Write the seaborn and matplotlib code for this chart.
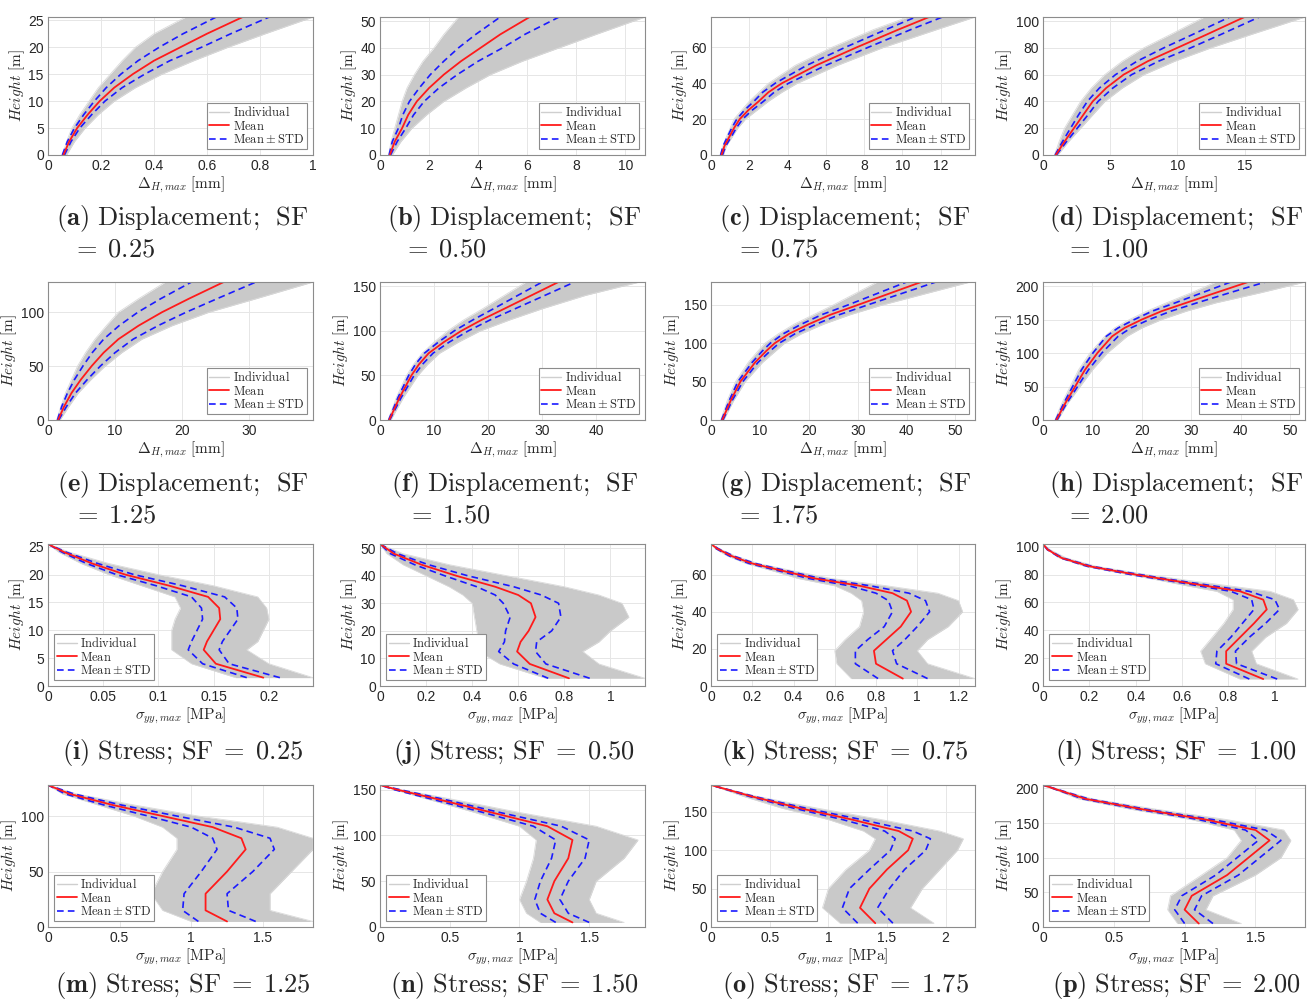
import numpy as np
import matplotlib.pyplot as plt
import seaborn as sns
from matplotlib.lines import Line2D
from matplotlib.ticker import FuncFormatter, MultipleLocator

sns.set_style("whitegrid")
plt.rcParams['font.family'] = ['Liberation Sans', 'DejaVu Sans']
plt.rcParams['mathtext.fontset'] = 'cm'

# ---- displacement panels: height [m], mean and std of Delta_H,max [mm], grey band edges
a_h = [0, 2.5, 5, 7.5, 10, 12.5, 15, 17.5, 20, 22.5, 25.6]
a_mean = [0.058, 0.08, 0.11, 0.15, 0.195, 0.25, 0.32, 0.4, 0.5, 0.6, 0.735]
a_std = [0.004, 0.007, 0.01, 0.015, 0.02, 0.03, 0.045, 0.06, 0.08, 0.09, 0.1]
a_lo = [0.055, 0.07, 0.09, 0.12, 0.155, 0.19, 0.235, 0.28, 0.33, 0.4, 0.52]
a_hi = [0.07, 0.1, 0.14, 0.19, 0.25, 0.33, 0.43, 0.55, 0.68, 0.82, 1.0]

b_h = [0, 5, 10, 15, 20, 25, 30, 35, 40, 45, 51.5]
b_mean = [0.4, 0.6, 0.9, 1.15, 1.5, 2.0, 2.6, 3.3, 4.1, 4.9, 6.1]
b_std = [0.03, 0.1, 0.15, 0.22, 0.3, 0.4, 0.55, 0.7, 0.9, 1.0, 1.2]
b_lo = [0.35, 0.45, 0.6, 0.75, 0.9, 1.1, 1.4, 1.75, 2.2, 2.6, 3.2]
b_hi = [0.5, 0.85, 1.3, 1.9, 2.6, 3.5, 4.5, 5.8, 7.3, 8.8, 10.8]

c_h = [0, 5, 10, 15, 20, 25, 30, 35, 40, 50, 60, 70, 77]
c_mean = [0.55, 0.7, 0.95, 1.2, 1.5, 1.95, 2.5, 3.0, 3.7, 5.5, 7.6, 9.8, 11.4]
c_std = [0.05, 0.07, 0.1, 0.12, 0.15, 0.2, 0.25, 0.3, 0.35, 0.5, 0.6, 0.65, 0.7]
c_lo = [0.5, 0.62, 0.8, 1.0, 1.2, 1.6, 2.0, 2.5, 3.0, 4.4, 6.3, 8.5, 10.3]
c_hi = [0.65, 0.8, 1.1, 1.4, 1.8, 2.4, 3.0, 3.7, 4.5, 6.6, 9.0, 11.8, 13.8]

d_h = [0, 10, 20, 30, 40, 50, 60, 70, 80, 90, 103]
d_mean = [0.95, 1.6, 2.3, 3.0, 3.7, 4.7, 6.0, 7.8, 10.0, 12.2, 15.0]
d_std = [0.05, 0.15, 0.25, 0.35, 0.4, 0.5, 0.6, 0.8, 1.0, 1.05, 1.1]
d_lo = [0.85, 1.2, 1.6, 2.2, 2.8, 3.6, 4.6, 5.9, 7.5, 9.5, 12.0]
d_hi = [1.1, 1.9, 2.8, 3.7, 4.6, 5.9, 7.5, 9.8, 12.5, 15.5, 19.5]

e_h = [0, 12.5, 25, 37.5, 50, 62.5, 75, 87.5, 100, 112.5, 128]
e_mean = [1.5, 2.4, 3.5, 4.9, 6.5, 8.3, 10.5, 13.5, 17.0, 21.0, 26.2]
e_std = [0.1, 0.35, 0.6, 0.95, 1.3, 1.7, 2.2, 2.9, 3.6, 4.2, 4.8]
e_lo = [1.3, 1.9, 2.6, 3.5, 4.4, 5.6, 7.0, 8.7, 10.5, 13.5, 17.5]
e_hi = [1.8, 3.1, 4.5, 6.4, 8.5, 11.0, 14.0, 18.5, 24.0, 31.0, 39.5]

f_h = [0, 25, 50, 62.5, 75, 87.5, 100, 112.5, 125, 140, 155]
f_mean = [1.7, 3.6, 5.8, 7.2, 9.0, 11.8, 15.0, 18.8, 23.0, 28.0, 33.0]
f_std = [0.1, 0.3, 0.5, 0.65, 0.8, 1.0, 1.3, 1.6, 2.0, 2.5, 3.0]
f_lo = [1.5, 3.0, 4.9, 6.2, 7.8, 10.0, 12.5, 15.5, 19.0, 23.0, 27.0]
f_hi = [2.0, 4.3, 7.0, 8.8, 11.0, 14.5, 18.5, 24.0, 30.0, 38.0, 48.0]

g_h = [0, 25, 50, 75, 90, 100, 112.5, 125, 137.5, 150, 165, 180]
g_mean = [2.3, 4.0, 6.0, 9.0, 11.3, 13.0, 16.0, 20.0, 24.5, 30.0, 36.5, 43.0]
g_std = [0.15, 0.3, 0.5, 0.6, 0.8, 0.9, 1.2, 1.5, 1.8, 2.0, 2.5, 3.0]
g_lo = [2.0, 3.3, 5.0, 7.6, 9.6, 11.0, 13.8, 17.0, 21.0, 25.0, 29.5, 34.0]
g_hi = [2.6, 4.6, 7.0, 10.5, 13.2, 15.0, 18.5, 23.0, 28.5, 35.0, 44.0, 53.0]

h_h = [0, 25, 50, 75, 100, 125, 137.5, 150, 162.5, 175, 190, 206]
h_mean = [2.7, 4.5, 6.5, 8.5, 11.0, 14.0, 16.5, 20.0, 24.0, 29.0, 35.0, 41.5]
h_std = [0.15, 0.3, 0.5, 0.7, 0.9, 1.2, 1.3, 1.5, 1.9, 2.2, 2.8, 3.5]
h_lo = [2.4, 3.8, 5.5, 7.2, 9.5, 12.5, 14.5, 17.5, 21.0, 25.0, 30.0, 35.0]
h_hi = [3.0, 5.0, 7.5, 10.0, 13.0, 17.0, 20.0, 24.0, 29.0, 35.0, 44.0, 53.0]

# ---- stress panels: height [m], mean and std of sigma_yy,max [MPa], grey band edges
i_h = [1.5, 4, 6.5, 8, 10, 12, 14, 16, 18, 20, 22, 24, 25.5]
i_mean = [0.195, 0.152, 0.141, 0.144, 0.15, 0.156, 0.155, 0.145, 0.11, 0.07, 0.04, 0.015, 0]
i_std = [0.015, 0.012, 0.014, 0.014, 0.015, 0.016, 0.016, 0.015, 0.012, 0.008, 0.005, 0.002, 0]
i_lo = [0.17, 0.13, 0.112, 0.112, 0.112, 0.115, 0.12, 0.115, 0.085, 0.055, 0.03, 0.01, 0]
i_hi = [0.24, 0.2, 0.18, 0.19, 0.195, 0.2, 0.198, 0.19, 0.15, 0.1, 0.055, 0.02, 0]

j_h = [2.8, 8, 12.5, 16, 20, 25, 30, 33, 36, 40, 44, 48, 51.5]
j_mean = [0.82, 0.65, 0.595, 0.61, 0.645, 0.675, 0.655, 0.6, 0.5, 0.33, 0.18, 0.06, 0]
j_std = [0.09, 0.07, 0.08, 0.07, 0.1, 0.11, 0.12, 0.1, 0.08, 0.05, 0.03, 0.015, 0]
j_lo = [0.72, 0.52, 0.43, 0.43, 0.42, 0.41, 0.4, 0.36, 0.3, 0.2, 0.1, 0.03, 0]
j_hi = [1.15, 0.95, 0.88, 0.95, 1.0, 1.08, 1.05, 0.95, 0.8, 0.55, 0.3, 0.1, 0]

k_h = [4, 12, 19, 25, 32, 40, 46, 50, 54, 58, 62, 66, 70, 74, 76.5]
k_mean = [0.93, 0.8, 0.79, 0.85, 0.92, 0.97, 0.95, 0.88, 0.72, 0.5, 0.35, 0.2, 0.1, 0.03, 0]
k_std = [0.12, 0.1, 0.09, 0.09, 0.08, 0.09, 0.09, 0.08, 0.05, 0.03, 0.02, 0.015, 0.01, 0.005, 0]
k_lo = [0.68, 0.61, 0.6, 0.65, 0.72, 0.74, 0.73, 0.68, 0.6, 0.42, 0.3, 0.17, 0.08, 0.02, 0]
k_hi = [1.28, 1.05, 1.0, 1.05, 1.15, 1.22, 1.2, 1.1, 0.85, 0.58, 0.4, 0.23, 0.12, 0.04, 0]

l_h = [5, 16, 25, 35, 45, 55, 62, 68, 72, 76, 80, 86, 92, 98, 102]
l_mean = [0.95, 0.79, 0.79, 0.85, 0.91, 0.965, 0.95, 0.85, 0.7, 0.55, 0.4, 0.2, 0.08, 0.02, 0]
l_std = [0.06, 0.045, 0.04, 0.04, 0.05, 0.055, 0.05, 0.04, 0.03, 0.02, 0.02, 0.01, 0.005, 0.002, 0]
l_lo = [0.85, 0.7, 0.68, 0.73, 0.78, 0.82, 0.82, 0.75, 0.62, 0.5, 0.37, 0.18, 0.07, 0.02, 0]
l_hi = [1.1, 0.92, 0.9, 0.96, 1.05, 1.1, 1.08, 0.98, 0.8, 0.62, 0.45, 0.23, 0.1, 0.03, 0]

m_h = [5, 15, 30, 50, 70, 80, 90, 100, 110, 120, 128]
m_mean = [1.25, 1.1, 1.1, 1.25, 1.38, 1.35, 1.15, 0.8, 0.45, 0.15, 0]
m_std = [0.2, 0.16, 0.15, 0.18, 0.2, 0.2, 0.15, 0.1, 0.06, 0.03, 0]
m_lo = [1.0, 0.8, 0.72, 0.8, 0.9, 0.9, 0.8, 0.6, 0.35, 0.1, 0]
m_hi = [1.85, 1.55, 1.55, 1.7, 1.85, 1.85, 1.6, 1.05, 0.6, 0.2, 0]

n_h = [5, 15, 30, 50, 75, 95, 110, 125, 140, 150, 155]
n_mean = [1.38, 1.25, 1.2, 1.25, 1.35, 1.38, 1.2, 0.8, 0.4, 0.12, 0]
n_std = [0.12, 0.1, 0.09, 0.1, 0.12, 0.12, 0.1, 0.06, 0.04, 0.02, 0]
n_lo = [1.15, 1.05, 1.0, 1.05, 1.1, 1.12, 1.0, 0.68, 0.33, 0.1, 0]
n_hi = [1.75, 1.55, 1.5, 1.55, 1.75, 1.85, 1.55, 1.0, 0.5, 0.15, 0]

o_h = [5, 25, 50, 75, 100, 115, 125, 140, 155, 170, 185]
o_mean = [1.4, 1.27, 1.35, 1.5, 1.68, 1.72, 1.6, 1.2, 0.75, 0.35, 0]
o_std = [0.15, 0.15, 0.17, 0.15, 0.15, 0.15, 0.12, 0.08, 0.05, 0.02, 0]
o_lo = [1.1, 0.95, 1.0, 1.15, 1.35, 1.4, 1.3, 1.0, 0.6, 0.28, 0]
o_hi = [1.9, 1.7, 1.8, 1.95, 2.1, 2.15, 1.95, 1.45, 0.9, 0.4, 0]

p_h = [5, 25, 45, 75, 100, 125, 140, 155, 170, 185, 205]
p_mean = [1.1, 1.0, 1.05, 1.3, 1.45, 1.6, 1.5, 1.15, 0.7, 0.3, 0]
p_std = [0.1, 0.07, 0.07, 0.08, 0.08, 0.08, 0.07, 0.05, 0.03, 0.02, 0]
p_lo = [0.95, 0.88, 0.9, 1.12, 1.3, 1.4, 1.35, 1.05, 0.62, 0.25, 0]
p_hi = [1.4, 1.15, 1.2, 1.5, 1.68, 1.75, 1.7, 1.3, 0.8, 0.35, 0]

sf_labels = ['0.25', '0.50', '0.75', '1.00', '1.25', '1.50', '1.75', '2.00']

# (letter, data, xlim, xstep, ylim, ystep)
panels = [
    ('a', (a_h, a_mean, a_std, a_lo, a_hi), 1.0, 0.2, 25.6, 5),
    ('b', (b_h, b_mean, b_std, b_lo, b_hi), 10.8, 2, 51.5, 10),
    ('c', (c_h, c_mean, c_std, c_lo, c_hi), 13.8, 2, 77, 20),
    ('d', (d_h, d_mean, d_std, d_lo, d_hi), 19.5, 5, 103, 20),
    ('e', (e_h, e_mean, e_std, e_lo, e_hi), 39.5, 10, 128, 50),
    ('f', (f_h, f_mean, f_std, f_lo, f_hi), 49, 10, 155, 50),
    ('g', (g_h, g_mean, g_std, g_lo, g_hi), 54, 10, 180, 50),
    ('h', (h_h, h_mean, h_std, h_lo, h_hi), 53, 10, 206, 50),
    ('i', (i_h, i_mean, i_std, i_lo, i_hi), 0.24, 0.05, 25.5, 5),
    ('j', (j_h, j_mean, j_std, j_lo, j_hi), 1.15, 0.2, 51.5, 10),
    ('k', (k_h, k_mean, k_std, k_lo, k_hi), 1.28, 0.2, 76.5, 20),
    ('l', (l_h, l_mean, l_std, l_lo, l_hi), 1.13, 0.2, 102, 20),
    ('m', (m_h, m_mean, m_std, m_lo, m_hi), 1.85, 0.5, 128, 50),
    ('n', (n_h, n_mean, n_std, n_lo, n_hi), 1.9, 0.5, 155, 50),
    ('o', (o_h, o_mean, o_std, o_lo, o_hi), 2.25, 0.5, 185, 50),
    ('p', (p_h, p_mean, p_std, p_lo, p_hi), 1.85, 0.5, 205, 50),
]

fig = plt.figure(figsize=(13.14, 10.01), dpi=100)

W, H = 1314.0, 1001.0
col_left = [48, 380, 711, 1043]
col_w = [265, 265, 264, 262]
row_top = [17, 282, 544, 785]
row_h = [138, 138, 142, 142]
cap_top = [203, 469, 737, 970]

grey = '#c9c9c9'
fmt = FuncFormatter(lambda v, p: '%g' % round(v, 6))
dash = (0, (4, 2.5))

for idx, (letter, (hh, mean, std, lo, hi), xmax, xstep, ymax, ystep) in enumerate(panels):
    r, c = divmod(idx, 4)
    ax = fig.add_axes([col_left[c] / W, 1 - (row_top[r] + row_h[r]) / H,
                       col_w[c] / W, row_h[r] / H])
    mean = np.array(mean)
    std = np.array(std)
    ax.fill_betweenx(hh, lo, hi, color=grey, lw=0, zorder=1)
    ax.plot(lo, hh, color='#dadada', lw=0.6, zorder=1)
    ax.plot(hi, hh, color='#dadada', lw=0.6, zorder=1)
    sns.lineplot(x=mean - std, y=hh, sort=False, estimator=None, color='#1a1aff',
                 lw=1.2, linestyle=dash, ax=ax, zorder=3)
    sns.lineplot(x=mean + std, y=hh, sort=False, estimator=None, color='#1a1aff',
                 lw=1.2, linestyle=dash, ax=ax, zorder=3)
    sns.lineplot(x=mean, y=hh, sort=False, estimator=None, color='#ff1a1a',
                 lw=1.3, ax=ax, zorder=4)

    ax.set_xlim(0, xmax)
    ax.set_ylim(0, ymax)
    ax.xaxis.set_major_locator(MultipleLocator(xstep))
    ax.yaxis.set_major_locator(MultipleLocator(ystep))
    ax.xaxis.set_major_formatter(fmt)
    ax.yaxis.set_major_formatter(fmt)
    ax.tick_params(labelsize=10, length=2, direction='in', pad=3, colors='#262626')
    ax.grid(True, color='#e6e6e6', lw=0.7)
    for s in ax.spines.values():
        s.set_color('#8c8c8c')
        s.set_linewidth(0.8)
        s.set_zorder(5)

    ax.set_ylabel(r'$Height\ [\mathrm{m}]$', fontsize=11, labelpad=1)
    disp = idx < 8
    if disp:
        ax.set_xlabel(r'$\Delta_{H,max}\ [\mathrm{mm}]$', fontsize=11, labelpad=1)
    else:
        ax.set_xlabel(r'$\sigma_{yy,max}\ [\mathrm{MPa}]$', fontsize=11, labelpad=1)

    handles = [Line2D([], [], color='#cfcfcf', lw=1.0),
               Line2D([], [], color='#ff1a1a', lw=1.3),
               Line2D([], [], color='#1a1aff', lw=1.2, linestyle=dash)]
    labels = [r'$\mathrm{Individual}$', r'$\mathrm{Mean}$', r'$\mathrm{Mean}\pm\mathrm{STD}$']
    leg = ax.legend(handles, labels, loc='lower right' if disp else 'lower left',
                    fontsize=9, frameon=True, fancybox=False, framealpha=1,
                    edgecolor='#8c8c8c', borderpad=0.2, labelspacing=0.05,
                    handlelength=1.6, handletextpad=0.3, borderaxespad=0.5)
    leg.get_frame().set_linewidth(0.8)

    sf = sf_labels[idx % 8]
    if disp:
        cap = (r'$\mathbf{(' + letter + r')}\ \mathrm{Displacement;\ \,SF}$' + '\n'
               + r'$\ \ =\;\mathrm{' + sf + r'}$')
    else:
        cap = (r'$\mathbf{(' + letter + r')}\ \mathrm{Stress;\,SF}\;=\;\mathrm{'
               + sf + r'}$')
    fig.text((col_left[c] + col_w[c] / 2 + 2) / W, 1 - cap_top[r] / H, cap,
             ha='center', va='top', multialignment='left', fontsize=19,
             linespacing=1.2)

plt.savefig('out.png', dpi=100)
plt.close()
